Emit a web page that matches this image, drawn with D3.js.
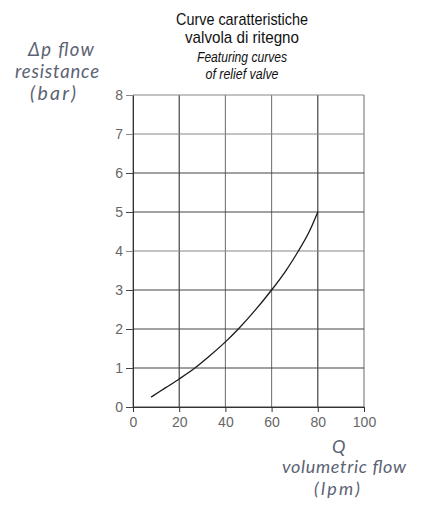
<!DOCTYPE html>
<html>
<head>
<meta charset="utf-8">
<script src="https://cdn.jsdelivr.net/npm/d3@7"></script>
<style>
  body { margin: 0; background: #fff; }
  .tick text { font-family: "Liberation Sans", Arial, sans-serif; font-size: 14px; fill: #666; }
</style>
</head>
<body>
<svg id="chart"></svg>
<script>
// curve: flow (lpm) vs pressure drop (bar)
const flow = [8, 14, 20, 26.8, 33, 40, 45.6, 53, 60, 66, 71.6, 76, 80];
const dp = [0.26, 0.49, 0.72, 1.0, 1.3, 1.67, 2.0, 2.49, 3.0, 3.48, 4.0, 4.46, 5.0];
const xTicks = [0, 20, 40, 60, 80, 100];
const yTicks = [0, 1, 2, 3, 4, 5, 6, 7, 8];
const titleLines = ["Curve caratteristiche", "valvola di ritegno"];
const subtitleLines = ["Featuring curves", "of relief valve"];
const yLabelLines = ["Δp flow", "resistance", "(bar)"];
const xLabelLines = ["Q", "volumetric flow", "(lpm)"];

const svgWidth = 425, svgHeight = 507;
const margin = {top: 95, left: 133};
const width = 231, height = 312;

const svg = d3.select("#chart")
  .attr("width", svgWidth)
  .attr("height", svgHeight);

const g = svg.append("g")
  .attr("transform", "translate(" + margin.left + "," + margin.top + ")");

const x = d3.scaleLinear().domain([0, 100]).range([0, width]);
const y = d3.scaleLinear().domain([0, 8]).range([height, 0]);

// grid
g.append("g")
  .selectAll("line")
  .data(xTicks)
  .enter().append("line")
  .attr("x1", d => x(d)).attr("x2", d => x(d))
  .attr("y1", 0).attr("y2", height)
  .attr("stroke", d => (d == 20 || d == 80) ? "#333" : "#777")
  .attr("stroke-width", 1.1);

g.append("g")
  .selectAll("line")
  .data(yTicks)
  .enter().append("line")
  .attr("x1", 0).attr("x2", width)
  .attr("y1", d => y(d)).attr("y2", d => y(d))
  .attr("stroke", d => (d >= 7 || d == 4) ? "#888" : "#444")
  .attr("stroke-width", 1.1);

// axes
g.append("g")
  .attr("transform", "translate(0," + height + ")")
  .call(d3.axisBottom(x).tickValues(xTicks).tickSize(5).tickPadding(5).tickSizeOuter(0))
  .call(a => a.select(".domain").attr("stroke", "#333"))
  .call(a => a.selectAll(".tick line").attr("stroke", "#333"));

g.append("g")
  .call(d3.axisLeft(y).tickValues(yTicks).tickSize(7).tickPadding(3).tickSizeOuter(0))
  .call(a => a.select(".domain").attr("stroke", "#333"))
  .call(a => a.selectAll(".tick line").attr("stroke", d => (d >= 7 || d == 4) ? "#888" : "#444"));

// curve
const line = d3.line()
  .x((d, i) => x(flow[i]))
  .y(d => y(d))
  .curve(d3.curveCatmullRom);

g.append("path")
  .datum(dp)
  .attr("fill", "none")
  .attr("stroke", "#1a1a1a")
  .attr("stroke-width", 1.3)
  .attr("stroke-linecap", "round")
  .attr("d", line);

// titles (condensed face squeezed with textLength, no narrow font installed)
const titleWidths = [132, 114];
svg.append("g").selectAll("text")
  .data(titleLines)
  .enter().append("text")
  .attr("x", 242)
  .attr("y", (d, i) => 25 + i * 18)
  .attr("text-anchor", "middle")
  .attr("textLength", (d, i) => titleWidths[i])
  .attr("lengthAdjust", "spacingAndGlyphs")
  .style("font-family", "'Liberation Sans', sans-serif")
  .style("font-size", "17px")
  .style("fill", "#111")
  .text(d => d);

const subtitleWidths = [90, 73];
svg.append("g").selectAll("text")
  .data(subtitleLines)
  .enter().append("text")
  .attr("x", 242)
  .attr("y", (d, i) => 62 + i * 17)
  .attr("text-anchor", "middle")
  .attr("textLength", (d, i) => subtitleWidths[i])
  .attr("lengthAdjust", "spacingAndGlyphs")
  .style("font-family", "'Liberation Sans', sans-serif")
  .style("font-style", "italic")
  .style("font-size", "14px")
  .style("fill", "#111")
  .text(d => d);

// axis titles, letter-spaced out to the widths in the picture: [x, baseline, width, size]
const labelFont = "Lato, 'Open Sans', sans-serif";
const yLabelPos = [[28, 56, 66, 18.5], [15, 78, 84, 18.5], [30, 100, 46, 19.5]];
svg.append("g").selectAll("text")
  .data(yLabelLines)
  .enter().append("text")
  .attr("x", (d, i) => yLabelPos[i][0])
  .attr("y", (d, i) => yLabelPos[i][1])
  .attr("textLength", (d, i) => yLabelPos[i][2])
  .attr("lengthAdjust", "spacing")
  .style("font-family", labelFont)
  .style("font-style", "italic")
  .style("font-size", (d, i) => yLabelPos[i][3] + "px")
  .style("fill", "#5c6373")
  .text(d => d);

const xLabelPos = [[332, 453, 14, 18], [282, 473, 124, 18], [314, 495, 46, 18]];
svg.append("g").selectAll("text")
  .data(xLabelLines)
  .enter().append("text")
  .attr("x", (d, i) => xLabelPos[i][0])
  .attr("y", (d, i) => xLabelPos[i][1])
  .attr("textLength", (d, i) => xLabelPos[i][2])
  .attr("lengthAdjust", "spacing")
  .style("font-family", labelFont)
  .style("font-style", "italic")
  .style("font-size", (d, i) => xLabelPos[i][3] + "px")
  .style("fill", "#5c6373")
  .text(d => d);
</script>
</body>
</html>
